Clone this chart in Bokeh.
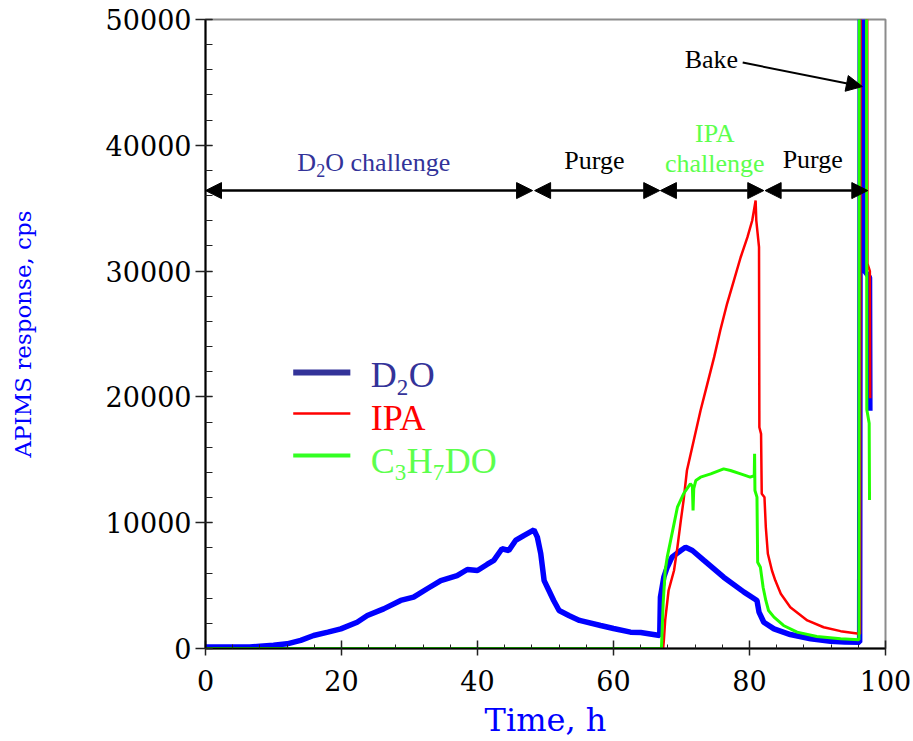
from bokeh.plotting import figure
from bokeh.models import Range1d, FixedTicker, Label, Arrow, NormalHead, NumeralTickFormatter
from bokeh.embed import file_html
from bokeh.resources import INLINE

# ---------------- data ----------------
t_d2o = [0, 6.5, 8, 10, 12, 14, 15.9, 18, 19.9, 22.3, 23.8, 26.2, 28.7, 30.6, 32.6, 34.6,
         37.0, 38.5, 40.0, 41.4, 42.4, 43.6, 44.6, 45.6, 46.8, 48.3, 48.8, 49.3, 49.8, 50.5,
         51.2, 52.0, 53.5, 55.0, 58.1, 60.0, 62.5, 64.0, 66.8, 66.9, 67.4, 67.9, 68.6, 69.9,
         70.6, 71.6, 73.3, 76.2, 79.2, 81.1, 81.4, 82.1, 83.6, 86.0, 89.0, 91.9, 94.0, 96.2,
         96.3, 96.9, 96.95, 97.65, 97.7]
v_d2o = [120, 120, 180, 250, 370, 650, 1030, 1300, 1560, 2090, 2620, 3150, 3820, 4080, 4750, 5400,
         5800, 6280, 6200, 6680, 7000, 7930, 7790, 8590, 8980, 9430, 8850, 7550, 5400, 4610,
         3820, 3020, 2600, 2230, 1830, 1590, 1300, 1270, 1030, 4080, 5670, 6460, 7260, 7790,
         8050, 7790, 7000, 5670, 4480, 3820, 2890, 2090, 1560, 1110, 770, 580, 520, 500,
         60000, 60000, 30000, 29500, 18900]

t_ipa = [0, 67.3, 67.4, 67.6, 68.1, 68.9, 69.4, 69.9, 70.3, 70.8, 71.8, 72.8, 73.8, 74.8, 75.7,
         76.7, 77.7, 78.7, 79.7, 80.4, 80.9, 81.0, 81.4, 81.45, 81.7, 81.8, 82.2, 82.4, 82.7,
         83.3, 83.8, 84.6, 86.0, 88.5, 90.9, 93.4, 96.1, 96.25, 96.35, 97.3, 97.35, 97.7, 97.75]
v_ipa = [0, 0, 600, 2230, 4610, 6200, 8050, 10170, 11760, 14150, 16530, 18920, 21040, 23160, 25280,
         27400, 29250, 31100, 32700, 34020, 35610, 34020, 31900, 17590, 17060, 12300, 12030, 9640, 7530,
         6200, 5400, 4350, 3280, 2230, 1690, 1380, 1170, 1170, 60000, 60000, 30600, 30000, 19900]

t_c3 = [0, 67.05, 67.3, 67.6, 67.9, 68.4, 68.9, 69.4, 70.3, 71.3, 71.6, 71.7, 71.8, 72.1, 72.8,
        74.3, 76.2, 77.2, 78.7, 80.1, 80.7, 80.75, 80.8, 81.1, 81.2, 81.6, 82.0, 82.4, 82.8,
        83.6, 85.0, 87.0, 89.9, 93.4, 96.1, 96.15, 97.2, 97.25, 97.6, 97.65]
v_c3 = [0, 0, 3550, 6200, 7260, 8590, 9910, 11230, 12300, 13090, 12900, 10970, 12700, 13350, 13620,
        13880, 14280, 14150, 13880, 13620, 13750, 15480, 12560, 12030, 6860, 6460, 4870, 3820, 3020,
        2490, 1830, 1300, 950, 770, 690, 60000, 60000, 19000, 17900, 11800]

x_ticks = [0, 20, 40, 60, 80, 100]
y_ticks = [0, 10000, 20000, 30000, 40000, 50000]
x_minor = list(range(0, 101, 4))
y_minor = list(range(0, 50001, 2000))

# legend names split into (text, is_subscript) runs
series_names = [
    [("D", False), ("2", True), ("O", False)],
    [("IPA", False)],
    [("C", False), ("3", True), ("H", False), ("7", True), ("DO", False)],
]

# phases (start, end) in hours
phase_bounds = [(0, 48.1), (48.4, 66.8), (66.9, 82.1), (82.3, 97.4)]

# ---------------- figure ----------------
p = figure(width=913, height=741, output_backend="svg", toolbar_location=None,
           x_range=Range1d(0, 100), y_range=Range1d(0, 50000),
           min_border_left=205, min_border_right=28, min_border_top=19, min_border_bottom=93,
           background_fill_color="white", border_fill_color="white")

PX = 50000 / 629.0  # data units per vertical pixel

p.xgrid.visible = False
p.ygrid.visible = False
p.outline_line_color = "#8c8c8c"
p.outline_line_width = 2

p.xaxis.ticker = FixedTicker(ticks=x_ticks, minor_ticks=x_minor)
p.yaxis.ticker = FixedTicker(ticks=y_ticks, minor_ticks=y_minor)
p.yaxis.formatter = NumeralTickFormatter(format="0")

for ax in (p.xaxis, p.yaxis):
    ax.axis_line_color = "black"
    ax.axis_line_width = 2
    ax.major_tick_line_color = "#222222"
    ax.minor_tick_line_color = "#222222"
    ax.major_tick_line_width = 1.5
    ax.minor_tick_line_width = 1
    ax.major_label_text_font = "DejaVu Serif"
    ax.major_label_text_font_size = "27px"
    ax.major_label_text_color = "black"
    ax.axis_label_text_color = "#0000ff"
    ax.axis_label_text_font = "DejaVu Serif"
    ax.axis_label_text_font_style = "normal"

p.xaxis.major_tick_in = 8
p.xaxis.major_tick_out = 7
p.xaxis.minor_tick_in = 4
p.xaxis.minor_tick_out = 0
p.xaxis.major_label_standoff = 14
p.xaxis.axis_label = "Time, h"
p.xaxis.axis_label_text_font_size = "32px"
p.xaxis.axis_label_standoff = 7

p.yaxis.major_tick_in = 7
p.yaxis.major_tick_out = 10
p.yaxis.minor_tick_in = 7
p.yaxis.minor_tick_out = 0
p.yaxis.major_label_standoff = 4
p.yaxis.axis_label = "APIMS response, cps"
p.yaxis.axis_label_text_font_size = "23px"
p.yaxis.axis_label_standoff = 67

# ---------------- series ----------------
p.line(t_d2o, v_d2o, line_color="#0000ff", line_width=5.5)
p.line(t_ipa, v_ipa, line_color="#ff0000", line_width=2.5)
p.line(t_c3, v_c3, line_color="#22ff00", line_width=3)

# ---------------- phase arrows & texts ----------------
def head():
    return NormalHead(size=16, fill_color="black", line_color="black")

arrow_y = 36400
for (a, b) in phase_bounds:
    p.add_layout(Arrow(start=head(), end=head(), x_start=a, y_start=arrow_y, x_end=b, y_end=arrow_y,
                       line_color="black", line_width=2.5))

p.add_layout(Arrow(start=None, end=head(), x_start=79.0, y_start=46580, x_end=96.6, y_end=44670,
                   line_color="black", line_width=2))


def lab(x, y, text, color, size="26px", align="center", dx=0, lift=10):
    p.add_layout(Label(x=x, y=y + lift * PX, x_offset=dx, text=text, text_color=color,
                       text_font="Liberation Serif", text_font_size=size,
                       text_align=align, text_baseline="alphabetic"))


def chem(x, y, runs, color, size, sub_size, sub_drop, widths, lift):
    dx = 0
    for (txt, is_sub), w in zip(runs, widths):
        lab(x, y, txt, color, size=sub_size if is_sub else size, align="left",
            dx=dx, lift=lift - (sub_drop if is_sub else 0))
        dx += w


# "D2O challenge"
chem(13.5, 37840, [("D", False), ("2", True), ("O challenge", False)], "#333399",
     "26px", "18px", 8, [19, 9, 0], 10)
lab(57.2, 37990, "Purge", "black")
lab(74.9, 40140, "IPA", "#5cff4d")
lab(74.9, 37760, "challenge", "#5cff4d")
lab(89.3, 38080, "Purge", "black")
lab(74.4, 46030, "Bake", "black")

# ---------------- legend ----------------
leg_line_colors = ["#333399", "#ff0000", "#33ff22"]
leg_text_colors = ["#333399", "#ff0000", "#5cff4d"]
leg_widths = [6, 2.5, 4]
leg_run_widths = [[26, 12, 0], [0], [24, 12, 26, 12, 0]]
leg_line_y = [21940, 18680, 15340]
leg_text_y = [20750, 17330, 13990]
for runs, lc, tc, lw, rw, ly, ty in zip(series_names, leg_line_colors, leg_text_colors,
                                        leg_widths, leg_run_widths, leg_line_y, leg_text_y):
    p.add_layout(Arrow(start=None, end=None, x_start=12.9, y_start=ly, x_end=21.3, y_end=ly,
                       line_color=lc, line_width=lw))
    chem(24.3, ty, runs, tc, "36px", "23px", 12, rw, 12)

open("out.html", "w").write(file_html(p, INLINE))
